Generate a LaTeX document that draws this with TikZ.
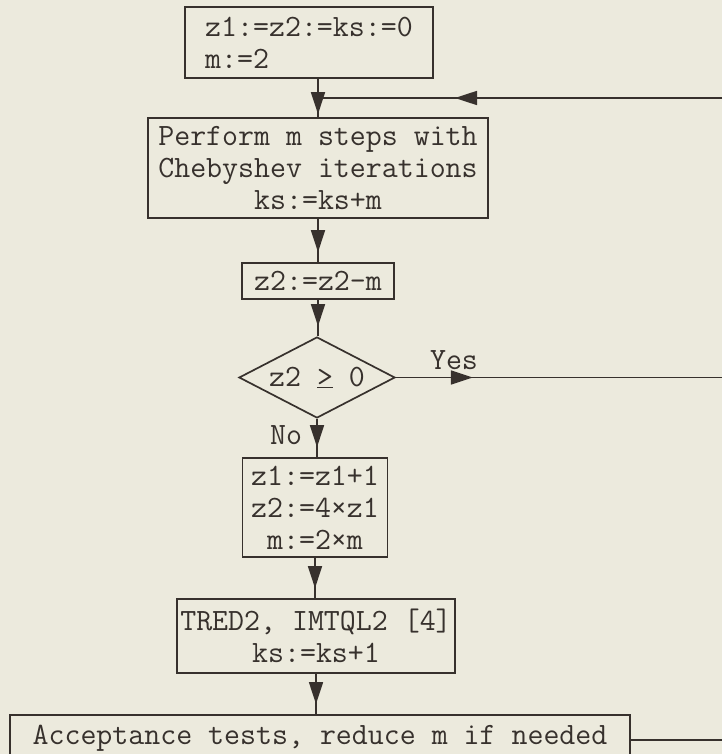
\documentclass[tikz,border=0pt]{standalone}
\usetikzlibrary{shapes.geometric,arrows.meta,decorations.markings}
\definecolor{paper}{RGB}{236,234,221}
\definecolor{ink}{RGB}{55,49,45}
\tikzset{chart/.style={x=1pt,y=-1pt,color=ink,line width=1.7pt,
                       font=\ttfamily\fontsize{31}{32}\selectfont}}
\tikzset{procbox/.style={draw,rectangle,align=center,inner sep=0pt},
         testbox/.style={draw,diamond,aspect=2,inner sep=0pt},
         flow/.style={postaction={decorate},
           decoration={markings,mark=at position #1 with {\arrow{Triangle[length=22pt,width=14pt]}}}},
         flow/.default=-10pt}

\begin{document}
\begin{tikzpicture}[chart]
    \fill[paper] (0,0) rectangle (722,754);
    \useasboundingbox (0,0) rectangle (722,754);
    \node[procbox,minimum width=248pt,minimum height=71pt,align=left] (init) at (309,42.5) {z1:=z2:=ks:=0\\m:=2};
    \node[procbox,minimum width=340pt,minimum height=100pt] (cheb) at (318,168) {Perform m steps with\\Chebyshev iterations\\ks:=ks+m};
    \node[procbox,minimum width=152pt,minimum height=36pt] (dec) at (318,281) {z2:=z2-m};
    \node[testbox,minimum width=156pt,minimum height=81pt] (test) at (317,377.5) {z2 \underline{>} 0};
    \node[procbox,minimum width=145pt,minimum height=99pt] (upd) at (315,507.5) {z1:=z1+1\\z2:=4×z1\\m:=2×m};
    \node[procbox,minimum width=278pt,minimum height=74pt] (tred) at (316,636) {TRED2, IMTQL2 [4]\\ks:=ks+1};
    \node[procbox,anchor=north,minimum width=620pt,inner ysep=10pt] (acc) at (320,714) {Acceptance tests, reduce m if needed};
    \node (yes) at (454,360) {Yes};
    \node (no) at (286,435) {No};
    % loose ends at the right margin
    \coordinate (loopin) at (722,98);
    \coordinate (yesout) at (722,377.5);
    \coordinate (accout) at (722,740);
    \draw[flow=-3pt] (init.south -| cheb.north) -- (cheb.north);
    \draw[flow=267pt] (loopin) -- (loopin -| cheb.north);
    \draw[flow] (cheb.south) -- (cheb.south |- dec.north);
    \draw[flow] (dec.south) -- (dec.south |- test.north);
    \draw[flow] (test.south) -- (test.south |- upd.north);
    \draw[flow] (upd.south) -- (upd.south |- tred.north);
    \draw[flow] (tred.south) -- (tred.south |- acc.north);
    \draw[flow=77pt] (test.east) -- (yesout);
    \draw (acc.east |- accout) -- (accout);
\end{tikzpicture}
\end{document}
